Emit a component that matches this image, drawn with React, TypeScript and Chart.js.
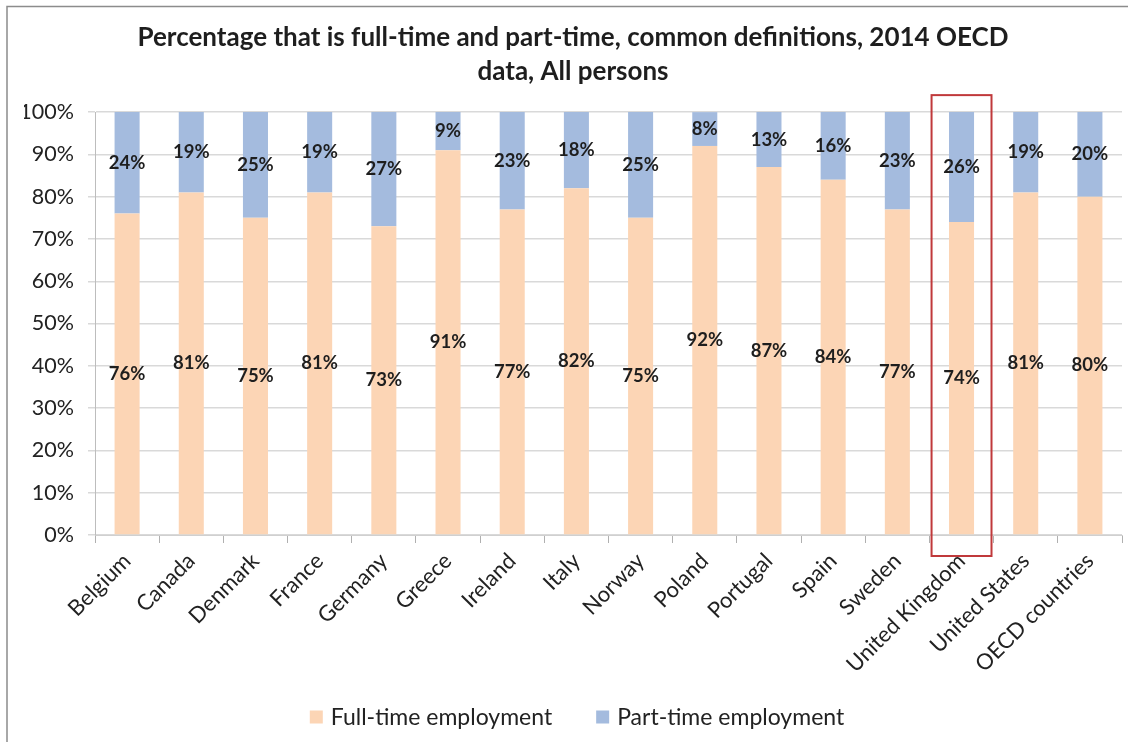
import React, { useEffect, useRef } from "react";
import { Chart, registerables } from "chart.js";

Chart.register(...registerables);

const categories = [
  "Belgium", "Canada", "Denmark", "France", "Germany", "Greece", "Ireland", "Italy",
  "Norway", "Poland", "Portugal", "Spain", "Sweden", "United Kingdom", "United States", "OECD countries",
];
const fullTime = [76, 81, 75, 81, 73, 91, 77, 82, 75, 92, 87, 84, 77, 74, 81, 80];
const partTime = [24, 19, 25, 19, 27, 9, 23, 18, 25, 8, 13, 16, 23, 26, 19, 20];
const highlightCategory = "United Kingdom";
const titleLines = [
  "Percentage that is full-time and part-time, common definitions, 2014 OECD",
  "data, All persons",
];
const FONT = "Lato, 'Open Sans', sans-serif";

const W = 1128;
const H = 742;

const framePlugin = {
  id: "frame",
  beforeDraw(chart: any) {
    const ctx = chart.ctx;
    ctx.save();
    ctx.fillStyle = "#ffffff";
    ctx.fillRect(0, 0, chart.width, chart.height);
    ctx.strokeStyle = "#8c8c8c";
    ctx.lineWidth = 1.5;
    ctx.beginPath();
    ctx.moveTo(7, chart.height);
    ctx.lineTo(7, 6.5);
    ctx.lineTo(chart.width, 6.5);
    ctx.stroke();
    ctx.restore();
  },
};

const valueLabelPlugin = {
  id: "valueLabels",
  afterDatasetsDraw(chart: any) {
    const ctx = chart.ctx;
    ctx.save();
    ctx.font = `bold 18.5px ${FONT}`;
    ctx.fillStyle = "#1e1e1e";
    ctx.textAlign = "center";
    ctx.textBaseline = "middle";
    chart.data.datasets.forEach((ds: any, di: number) => {
      const meta = chart.getDatasetMeta(di);
      meta.data.forEach((el: any, i: number) => {
        const v = ds.data[i];
        const cy = (el.y + el.base) / 2;
        ctx.fillText(`${v}%`, el.x, cy);
      });
    });
    ctx.restore();
  },
};

const highlightPlugin = {
  id: "highlight",
  afterDatasetsDraw(chart: any) {
    const idx = categories.indexOf(highlightCategory);
    if (idx < 0) return;
    const xs = chart.scales.x;
    const ys = chart.scales.y;
    const cx = xs.getPixelForValue(idx);
    const half = (xs.getPixelForValue(1) - xs.getPixelForValue(0)) * 0.467;
    const top = ys.getPixelForValue(100) - 17;
    const bottom = ys.getPixelForValue(0) + 21;
    const ctx = chart.ctx;
    ctx.save();
    ctx.strokeStyle = "#c0393b";
    ctx.lineWidth = 2;
    ctx.strokeRect(cx - half, top, half * 2, bottom - top);
    ctx.restore();
  },
};

// Custom legend drawn below the axis labels, centred like the reference.
const legendPlugin = {
  id: "customLegend",
  afterDraw(chart: any) {
    const ctx = chart.ctx;
    const box = 13;
    const boxGap = 8;
    const itemGap = 44;
    const cx = 577;
    const cy = 717;
    ctx.save();
    ctx.font = `23px ${FONT}`;
    ctx.textBaseline = "middle";
    ctx.textAlign = "left";
    const items = chart.data.datasets.map((ds: any) => ({
      label: ds.label,
      color: ds.backgroundColor,
      w: box + boxGap + ctx.measureText(ds.label).width,
    }));
    const total = items.reduce((s: number, it: any) => s + it.w, 0) + itemGap * (items.length - 1);
    let x = cx - total / 2;
    items.forEach((it: any) => {
      ctx.fillStyle = it.color;
      ctx.fillRect(x, cy - box / 2, box, box);
      ctx.fillStyle = "#222222";
      ctx.fillText(it.label, x + box + boxGap, cy + 1);
      x += it.w + itemGap;
    });
    ctx.restore();
  },
};

export default function App() {
  const ref = useRef<HTMLCanvasElement | null>(null);

  useEffect(() => {
    if (!ref.current) return;
    const chart = new Chart(ref.current, {
      type: "bar",
      data: {
        labels: categories,
        datasets: [
          {
            label: "Full-time employment",
            data: fullTime,
            backgroundColor: "#fcd5b5",
            barPercentage: 0.39,
            categoryPercentage: 1,
          },
          {
            label: "Part-time employment",
            data: partTime,
            backgroundColor: "#a4bbde",
            barPercentage: 0.39,
            categoryPercentage: 1,
          },
        ],
      },
      options: {
        responsive: false,
        animation: false,
        layout: { padding: { left: 24, right: 6, top: 0, bottom: 0 } },
        scales: {
          x: {
            stacked: true,
            grid: {
              drawOnChartArea: false,
              drawTicks: true,
              tickLength: 8,
              color: "#b0b0b0",
              offset: true,
            },
            border: { display: true, color: "#d0d0d0" },
            ticks: {
              minRotation: 45,
              maxRotation: 45,
              autoSkip: false,
              padding: 5,
              color: "#222222",
              font: { family: FONT, size: 22 },
            },
            afterFit(scale: any) {
              scale.height = 207;
            },
          },
          y: {
            stacked: true,
            min: 0,
            max: 100,
            ticks: {
              stepSize: 10,
              padding: 14,
              color: "#222222",
              font: { family: FONT, size: 21.5 },
              callback: (v: any) => `${v}%`,
            },
            grid: {
              color: "#d9d9d9",
              tickLength: 7,
              lineWidth: 1.5,
            },
            border: { display: true, color: "#bdbdbd" },
            afterFit(scale: any) {
              scale.width = 71;
            },
          },
        },
        plugins: {
          title: {
            display: true,
            text: titleLines,
            color: "#1e1e1e",
            font: { family: FONT, size: 26, weight: "bold", lineHeight: 1.31 },
            padding: { top: 21, bottom: 23 },
          },
          legend: { display: false },
          tooltip: { enabled: false },
        },
      },
      plugins: [framePlugin, valueLabelPlugin, highlightPlugin, legendPlugin],
    });
    return () => chart.destroy();
  }, []);

  return (
    <div style={{ position: "absolute", left: 0, top: 0, width: W, height: H, background: "#fff" }}>
      <canvas ref={ref} width={W} height={H} style={{ display: "block" }} />
    </div>
  );
}
